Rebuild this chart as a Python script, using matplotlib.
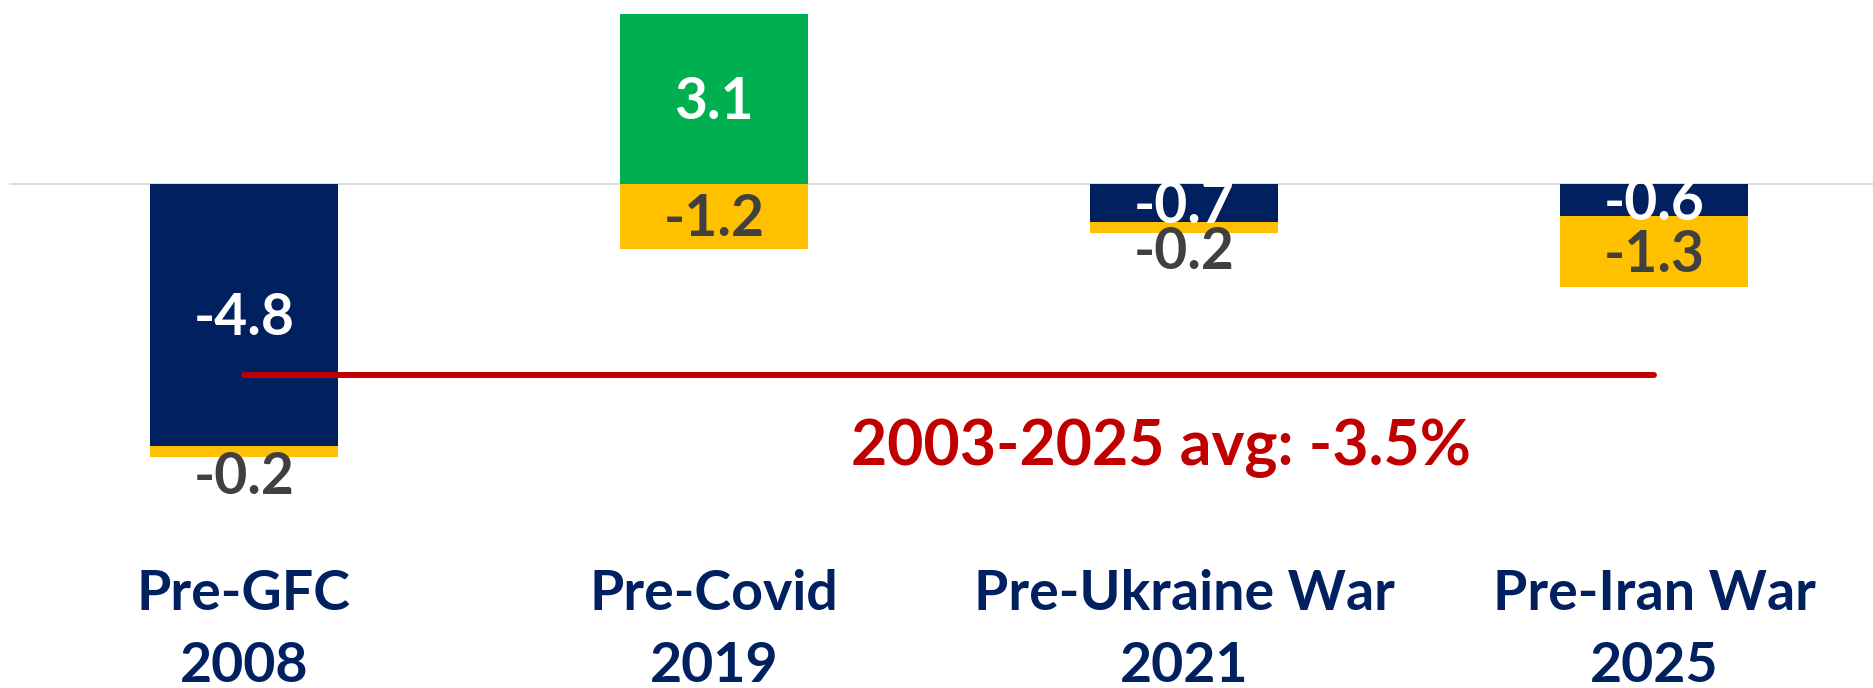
import matplotlib
matplotlib.use("Agg")
import matplotlib.pyplot as plt
import matplotlib.transforms as mtransforms

# ---- data ----
categories = ["Pre-GFC", "Pre-Covid", "Pre-Ukraine War", "Pre-Iran War"]
years = ["2008", "2019", "2021", "2025"]
series_main = [-4.8, 3.1, -0.7, -0.6]      # navy (negative) / green (positive)
series_second = [-0.2, -1.2, -0.2, -1.3]   # gold, stacked below
avg_value = -3.5
avg_label = "2003-2025 avg: -3.5%"

NAVY = "#002060"
GREEN = "#00B050"
GOLD = "#FFC000"
RED = "#C00000"
GREY = "#404040"
FONT = "Lato"

W, H = 1874, 688
fig = plt.figure(figsize=(W / 100, H / 100), dpi=100)
ax = fig.add_axes([0, 0, 1, 1])
ax.set_axis_off()

px_unit_x = 470.0
x0_px = 244.0
ax.set_xlim(-x0_px / px_unit_x, (W - x0_px) / px_unit_x)
zero_px = 183.5
px_unit_y = 54.7
ax.set_ylim(-(H - zero_px) / px_unit_y, zero_px / px_unit_y)

x = list(range(len(categories)))
bw = 0.4

ax.axhline(0, xmin=10 / W, xmax=1, color="#D9D9D9", lw=1.3, zorder=1)

main_colors = [GREEN if v > 0 else NAVY for v in series_main]
ax.bar(x, series_main, width=bw, color=main_colors, zorder=2)
bottoms = [min(v, 0) for v in series_main]
ax.bar(x, series_second, width=bw, bottom=bottoms, color=GOLD, zorder=2)

pt = 0.72  # points per pixel at 100 dpi
for i, v in enumerate(series_main):
    ax.annotate(f"{v:.1f}", xy=(i, v / 2), xytext=(0, -20 * pt), textcoords="offset points",
                ha="center", va="baseline", color="white", fontsize=41,
                fontweight="bold", family=FONT, zorder=4)
for i, v in enumerate(series_second):
    c = bottoms[i] + v / 2
    extra = -22 if abs(v) < 0.5 else 0
    ax.annotate(f"{v:.1f}", xy=(i, c), xytext=(0, (-20 + extra) * pt), textcoords="offset points",
                ha="center", va="baseline", color=GREY, fontsize=41,
                fontweight="bold", family=FONT, zorder=4)

# average line
ax.plot([x[0], x[-1]], [avg_value, avg_value], color=RED, lw=4.3,
        solid_capstyle="round", zorder=3)
ax.annotate(avg_label, xy=(1.95, avg_value), xytext=(0, -90 * pt), textcoords="offset points",
            ha="center", va="baseline", color=RED, fontsize=45,
            fontweight="bold", family=FONT)

trans = mtransforms.blended_transform_factory(ax.transData, ax.transAxes)
for i, (c, yr) in enumerate(zip(categories, years)):
    ax.text(i, 1 - 610 / H, c, transform=trans, ha="center", va="baseline",
            color=NAVY, fontsize=40, fontweight="bold", family=FONT)
    ax.text(i, 1 - 682 / H, yr, transform=trans, ha="center", va="baseline",
            color=NAVY, fontsize=40, fontweight="bold", family=FONT)

fig.savefig("out.png", dpi=100)
